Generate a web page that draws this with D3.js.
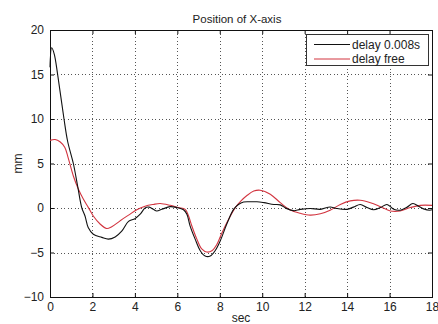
<!DOCTYPE html>
<html>
<head>
<meta charset="utf-8">
<script src="https://cdn.jsdelivr.net/npm/d3@7"></script>
<style>
  html, body { margin: 0; padding: 0; background: #fff; }
  svg { display: block; }
  text { font-family: "Liberation Sans", Arial, sans-serif; fill: #222; }
</style>
</head>
<body>
<script>
// Position of X-axis: time (s) vs position (mm), two controller variants
const xTicks = [0, 2, 4, 6, 8, 10, 12, 14, 16, 18];
const yTicks = [-10, -5, 0, 5, 10, 15, 20];
const seriesNames = ["delay 0.008s", "delay free"];

const delayT = [0, 0.08, 0.2, 0.36, 0.66, 0.83, 1.1, 1.3, 1.5, 1.65, 1.8, 2.04, 2.44, 2.75, 3.07, 3.38, 3.7, 4.0, 4.25, 4.48, 4.67, 4.87, 5.03, 5.27, 5.66, 5.97, 6.29, 6.45, 6.6, 6.84, 7.08, 7.31, 7.55, 7.78, 8.02, 8.33, 8.65, 8.88, 9.12, 9.43, 9.75, 10.08, 10.55, 10.85, 11.16, 11.48, 11.8, 12.26, 12.74, 13.2, 13.5, 13.99, 14.3, 14.62, 14.94, 15.25, 15.57, 15.88, 16.2, 16.5, 16.8, 17.1, 17.37, 17.6, 17.9, 18];
const delayV = [15.8, 18.0, 17.3, 15.0, 10.0, 7.5, 5.0, 2.5, 0.0, -0.9, -2.2, -2.95, -3.3, -3.5, -3.25, -2.6, -1.5, -1.2, -0.7, 0.0, 0.1, -0.15, -0.33, -0.15, 0.15, 0.05, -0.2, -0.7, -2.0, -3.5, -4.8, -5.4, -5.4, -4.8, -3.7, -1.8, -0.15, 0.4, 0.67, 0.7, 0.7, 0.6, 0.4, 0.35, -0.07, -0.3, -0.15, -0.05, -0.15, 0.12, -0.05, -0.15, 0.1, 0.4, 0.05, -0.2, 0.05, 0.4, -0.15, -0.25, 0.05, 0.5, 0.2, -0.1, -0.25, -0.2];

const freeT = [0, 0.24, 0.47, 0.7, 0.86, 1.1, 1.34, 1.57, 1.81, 2.04, 2.36, 2.67, 2.91, 3.3, 3.7, 4.09, 4.48, 4.87, 5.19, 5.66, 6.05, 6.37, 6.53, 6.68, 6.92, 7.15, 7.39, 7.63, 7.86, 8.1, 8.41, 8.73, 9.0, 9.28, 9.6, 9.9, 10.38, 10.85, 11.3, 11.8, 12.26, 12.74, 13.2, 13.68, 14.15, 14.62, 15.1, 15.57, 16.04, 16.5, 16.98, 17.45, 18];
const freeV = [7.6, 7.7, 7.45, 6.8, 5.6, 3.6, 2.1, 1.0, 0.04, -0.9, -1.8, -2.3, -2.1, -1.45, -0.8, -0.2, 0.2, 0.4, 0.5, 0.3, 0.05, -0.15, -0.9, -2.0, -3.5, -4.6, -4.95, -4.8, -4.1, -2.8, -1.3, 0.04, 0.8, 1.4, 1.9, 2.0, 1.55, 0.6, -0.2, -0.6, -0.8, -0.65, -0.25, 0.4, 0.8, 0.87, 0.6, 0.15, -0.33, -0.33, 0.05, 0.3, 0.3];

const W = 438, H = 324;
const plot = { left: 50, right: 432, top: 30, bottom: 297 };

const svg = d3.select("body").append("svg").attr("width", W).attr("height", H);

const x = d3.scaleLinear().domain([0, 18]).range([plot.left, plot.right]);
const y = d3.scaleLinear().domain([-10, 20]).range([plot.bottom, plot.top]);

// dotted grid
const grid = svg.append("g").attr("stroke", "#555").attr("stroke-width", 1)
  .attr("stroke-dasharray", "1,2.5").attr("shape-rendering", "crispEdges");
xTicks.slice(1, -1).forEach(t => {
  grid.append("line").attr("x1", Math.round(x(t)) + 0.5).attr("x2", Math.round(x(t)) + 0.5)
    .attr("y1", plot.top).attr("y2", plot.bottom);
});
yTicks.slice(1, -1).forEach(v => {
  grid.append("line").attr("y1", Math.round(y(v)) + 0.5).attr("y2", Math.round(y(v)) + 0.5)
    .attr("x1", plot.left).attr("x2", plot.right);
});

// axes with inward ticks
const tickLen = 4;
const xAxis = d3.axisBottom(x).tickValues(xTicks).tickSizeInner(-tickLen).tickSizeOuter(0).tickPadding(5);
const yAxis = d3.axisLeft(y).tickValues(yTicks).tickSizeInner(-tickLen).tickSizeOuter(0).tickPadding(6);
const xTop = d3.axisTop(x).tickValues(xTicks).tickSizeInner(-tickLen).tickSizeOuter(0).tickFormat("");
const yRight = d3.axisRight(y).tickValues(yTicks).tickSizeInner(-tickLen).tickSizeOuter(0).tickFormat("");

function styleAxis(g) {
  g.select(".domain").remove();
  g.selectAll("line").attr("stroke", "#111");
  g.selectAll("text").attr("font-size", 12).attr("fill", "#222")
    .attr("font-family", "'Liberation Sans', Arial, sans-serif");
}
svg.append("g").attr("transform", `translate(0,${plot.bottom})`).call(xAxis).call(styleAxis);
svg.append("g").attr("transform", `translate(${plot.left},0)`).call(yAxis).call(styleAxis);
svg.append("g").attr("transform", `translate(0,${plot.top})`).call(xTop).call(styleAxis);
svg.append("g").attr("transform", `translate(${plot.right},0)`).call(yRight).call(styleAxis);

// plot frame
svg.append("rect").attr("x", plot.left + 0.5).attr("y", plot.top + 0.5)
  .attr("width", plot.right - plot.left).attr("height", plot.bottom - plot.top)
  .attr("fill", "none").attr("stroke", "#111").attr("stroke-width", 1);

// series
const line = d3.line().x(d => x(d[0])).y(d => y(d[1])).curve(d3.curveCatmullRom.alpha(0.5));
const delayData = d3.zip(delayT, delayV);
const freeData = d3.zip(freeT, freeV);
const colors = ["#111", "#d2343f"];

svg.append("path").datum(freeData).attr("d", line)
  .attr("fill", "none").attr("stroke", colors[1]).attr("stroke-width", 1.1);
svg.append("path").datum(delayData).attr("d", line)
  .attr("fill", "none").attr("stroke", colors[0]).attr("stroke-width", 1.1);

// title and axis labels
svg.append("text").attr("x", 237).attr("y", 23).attr("text-anchor", "middle")
  .attr("font-size", 11.5).text("Position of X-axis");
svg.append("text").attr("x", (plot.left + plot.right) / 2).attr("y", 322).attr("text-anchor", "middle")
  .attr("font-size", 12).text("sec");
svg.append("text").attr("transform", `translate(22,${(plot.top + plot.bottom) / 2}) rotate(-90)`)
  .attr("text-anchor", "middle").attr("font-size", 12).text("mm");

// legend
const lg = svg.append("g");
lg.append("rect").attr("x", 306.5).attr("y", 34.5).attr("width", 122).attr("height", 31)
  .attr("fill", "#fff").attr("stroke", "#333").attr("stroke-width", 1);
seriesNames.forEach((name, i) => {
  const yy = 44.5 + i * 14.5;
  lg.append("line").attr("x1", 314).attr("x2", 350).attr("y1", yy).attr("y2", yy)
    .attr("stroke", colors[i]).attr("stroke-width", 1);
  lg.append("text").attr("x", 352).attr("y", yy + 4.3).attr("font-size", 12).text(name);
});
</script>
</body>
</html>
